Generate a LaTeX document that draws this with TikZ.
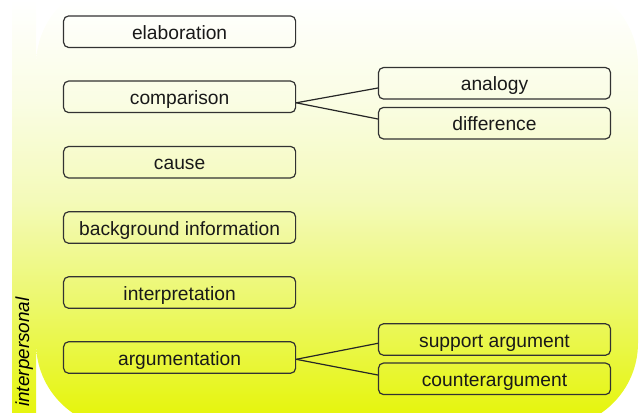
\documentclass[tikz,border=0pt]{standalone}
\usepackage{fontspec}
\setmainfont{Liberation Sans}
\definecolor{limeC}{RGB}{230,245,15}
\definecolor{cA}{RGB}{236,248,110}
\definecolor{cB}{RGB}{244,250,185}
\definecolor{cC}{RGB}{250,253,228}
\definecolor{boxline}{RGB}{50,50,50}
\pgfdeclareverticalshading{bgshade}{100bp}{color(0bp)=(limeC); color(26.8bp)=(limeC); color(39.3bp)=(cA); color(50.4bp)=(cB); color(61.6bp)=(cC); color(72.8bp)=(white); color(100bp)=(white)}
\begin{document}
\begin{tikzpicture}[x=1bp,y=-1bp,
  box/.style={draw=boxline, line width=1.2bp, rounded corners=5bp,
    minimum width=232bp, minimum height=31.5bp, inner sep=0pt,
    text height=17bp, text depth=2bp,
    font=\fontsize{19.3}{22}\selectfont, text=black!90},
  link/.style={draw=black!85, line width=1.2bp}]
\useasboundingbox (0,0) rectangle (640,412);
\clip (0,0) rectangle (640,412);
\shade[shading=bgshade] (12,-20) rectangle (36,428);
\shade[shading=bgshade, rounded corners=85bp] (36,-20) rectangle (638,428);
\node[rotate=90, anchor=base west, inner sep=0pt,
  font=\fontsize{19}{22}\selectfont\itshape] (lab) at (29,407) {interpersonal};
\node[box] (elab) at (179.6,31.7) {elaboration};
\node[box] (comp) at (179.6,96.8) {comparison};
\node[box] (cause) at (179.6,162.2) {cause};
\node[box] (backg) at (179.6,227.5) {background information};
\node[box] (interp) at (179.6,292.5) {interpretation};
\node[box] (argu) at (179.6,357.5) {argumentation};
\node[box] (analogy) at (494.5,83.3) {analogy};
\node[box] (diff) at (494.5,123.2) {difference};
\node[box] (supp) at (494.5,339.5) {support argument};
\node[box] (counter) at (494.5,378.8) {counterargument};
\draw[link] ([yshift=-6bp]comp.east) -- ([yshift=-4.7bp]analogy.west);
\draw[link] ([yshift=-6bp]comp.east) -- ([yshift=4.2bp]diff.west);
\draw[link] ([yshift=-1.8bp]argu.east) -- ([yshift=-3.8bp]supp.west);
\draw[link] ([yshift=-1.8bp]argu.east) -- ([yshift=3.8bp]counter.west);
\end{tikzpicture}
\end{document}
